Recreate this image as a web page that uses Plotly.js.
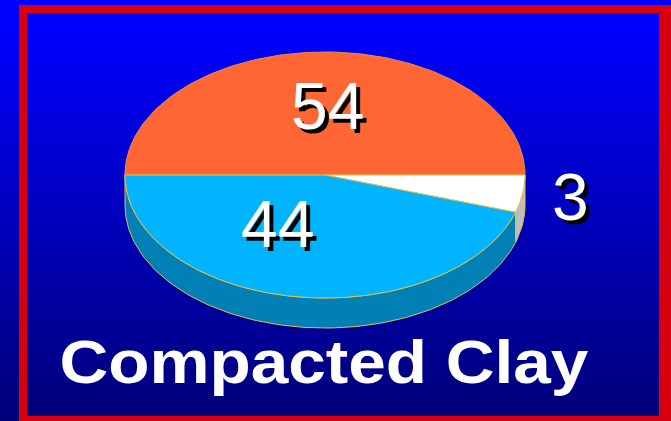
<!DOCTYPE html>
<html>
<head>
<meta charset="utf-8">
<script src="https://cdn.plot.ly/plotly-3.0.1.min.js"></script>
<style>
html,body{margin:0;padding:0;width:671px;height:421px;overflow:hidden;
background:linear-gradient(to bottom,#0000ff 0px,#0000ff 25px,#000078 421px);}
#chart{width:671px;height:421px;}
</style>
</head>
<body>
<div id="chart"></div>
<script>
// Values printed on the chart
const categories = ["54", "3", "44"];
const labelValues = [54, 3, 44];
// Share of the pie each slice occupies as drawn (percent)
const drawnShares = [50, 4.9, 45.1];
const topColors = ["#FF6633", "#FFFFFF", "#00B4FF"];
const sideColors = [null, "#BEBEBE", "#0080B4"];
const titleText = "Compacted Clay";

const outline = "#E8C040";
const cx = 325, cy = 175, rx = 200, ry = 123, depth = 30;
const rad = d => d * Math.PI / 180;
function arc(a0, a1, dy) {
  const n = Math.max(2, Math.ceil(Math.abs(a1 - a0) / 1.5));
  const xs = [], ys = [];
  for (let i = 0; i <= n; i++) {
    const a = rad(a0 + (a1 - a0) * i / n);
    xs.push(cx + rx * Math.cos(a));
    ys.push(cy + ry * Math.sin(a) + dy);
  }
  return [xs, ys];
}
const traces = [], tops = [];
let start = 180;
drawnShares.forEach((s, i) => {
  const end = start + s * 3.6;
  if (sideColors[i]) {
    const [x0, y0] = arc(start, end, 0);
    const [x1, y1] = arc(end, start, depth);
    traces.push({type:"scatter", mode:"lines", x:x0.concat(x1, [x0[0]]), y:y0.concat(y1, [y0[0]]),
      fill:"toself", fillcolor:sideColors[i], line:{color:outline, width:1}, hoverinfo:"skip", showlegend:false});
  }
  const [ax, ay] = arc(start, end, 0);
  tops.push({type:"scatter", mode:"lines", x:[cx].concat(ax, [cx]), y:[cy].concat(ay, [cy]),
    fill:"toself", fillcolor:topColors[i], line:{color:i === 0 ? "#F09040" : outline, width:1},
    name:categories[i], hoverinfo:"skip", showlegend:false});
  start = end;
});
const shadow = "4px 4px 0 #000000";
const numFont = {family:"Liberation Sans, Arial, sans-serif", size:66, color:"#FFFFFF", shadow:shadow};
const labelAt = [[327,106],[570,197],[277,224]];
const annotations = labelValues.map((v, i) => ({
  x:labelAt[i][0], y:labelAt[i][1], xref:"x", yref:"y", text:String(v), showarrow:false,
  xanchor:"center", yanchor:"middle", font:numFont
}));
annotations.push({x:79, y:361, xref:"x", yref:"y", text:titleText, showarrow:false,
  xanchor:"left", yanchor:"middle",
  font:{family:"Liberation Sans, Arial, sans-serif", size:62, color:"#FFFFFF", weight:700}});
const red = "#D6000F";
const rect = (x0,y0,x1,y1) => ({type:"rect", xref:"x", yref:"y", x0, y0, x1, y1, fillcolor:red, line:{width:0}, layer:"below"});
const layout = {
  width:671, height:421, margin:{l:0,r:0,t:0,b:0},
  paper_bgcolor:"rgba(0,0,0,0)", plot_bgcolor:"rgba(0,0,0,0)", showlegend:false,
  xaxis:{range:[0,671], visible:false, fixedrange:true},
  yaxis:{range:[421,0], visible:false, fixedrange:true},
  shapes:[rect(19,5,671,13), rect(19,5,27,421), rect(659,5,671,421), rect(19,416,671,421)],
  annotations:annotations
};
Plotly.newPlot("chart", traces.concat(tops), layout, {displayModeBar:false, staticPlot:true}).then(() => {
  const texts = document.querySelectorAll(".annotation-text");
  const t = texts[texts.length - 1];
  t.setAttribute("textLength", "529");
  t.setAttribute("lengthAdjust", "spacingAndGlyphs");
});
</script>
</body>
</html>
